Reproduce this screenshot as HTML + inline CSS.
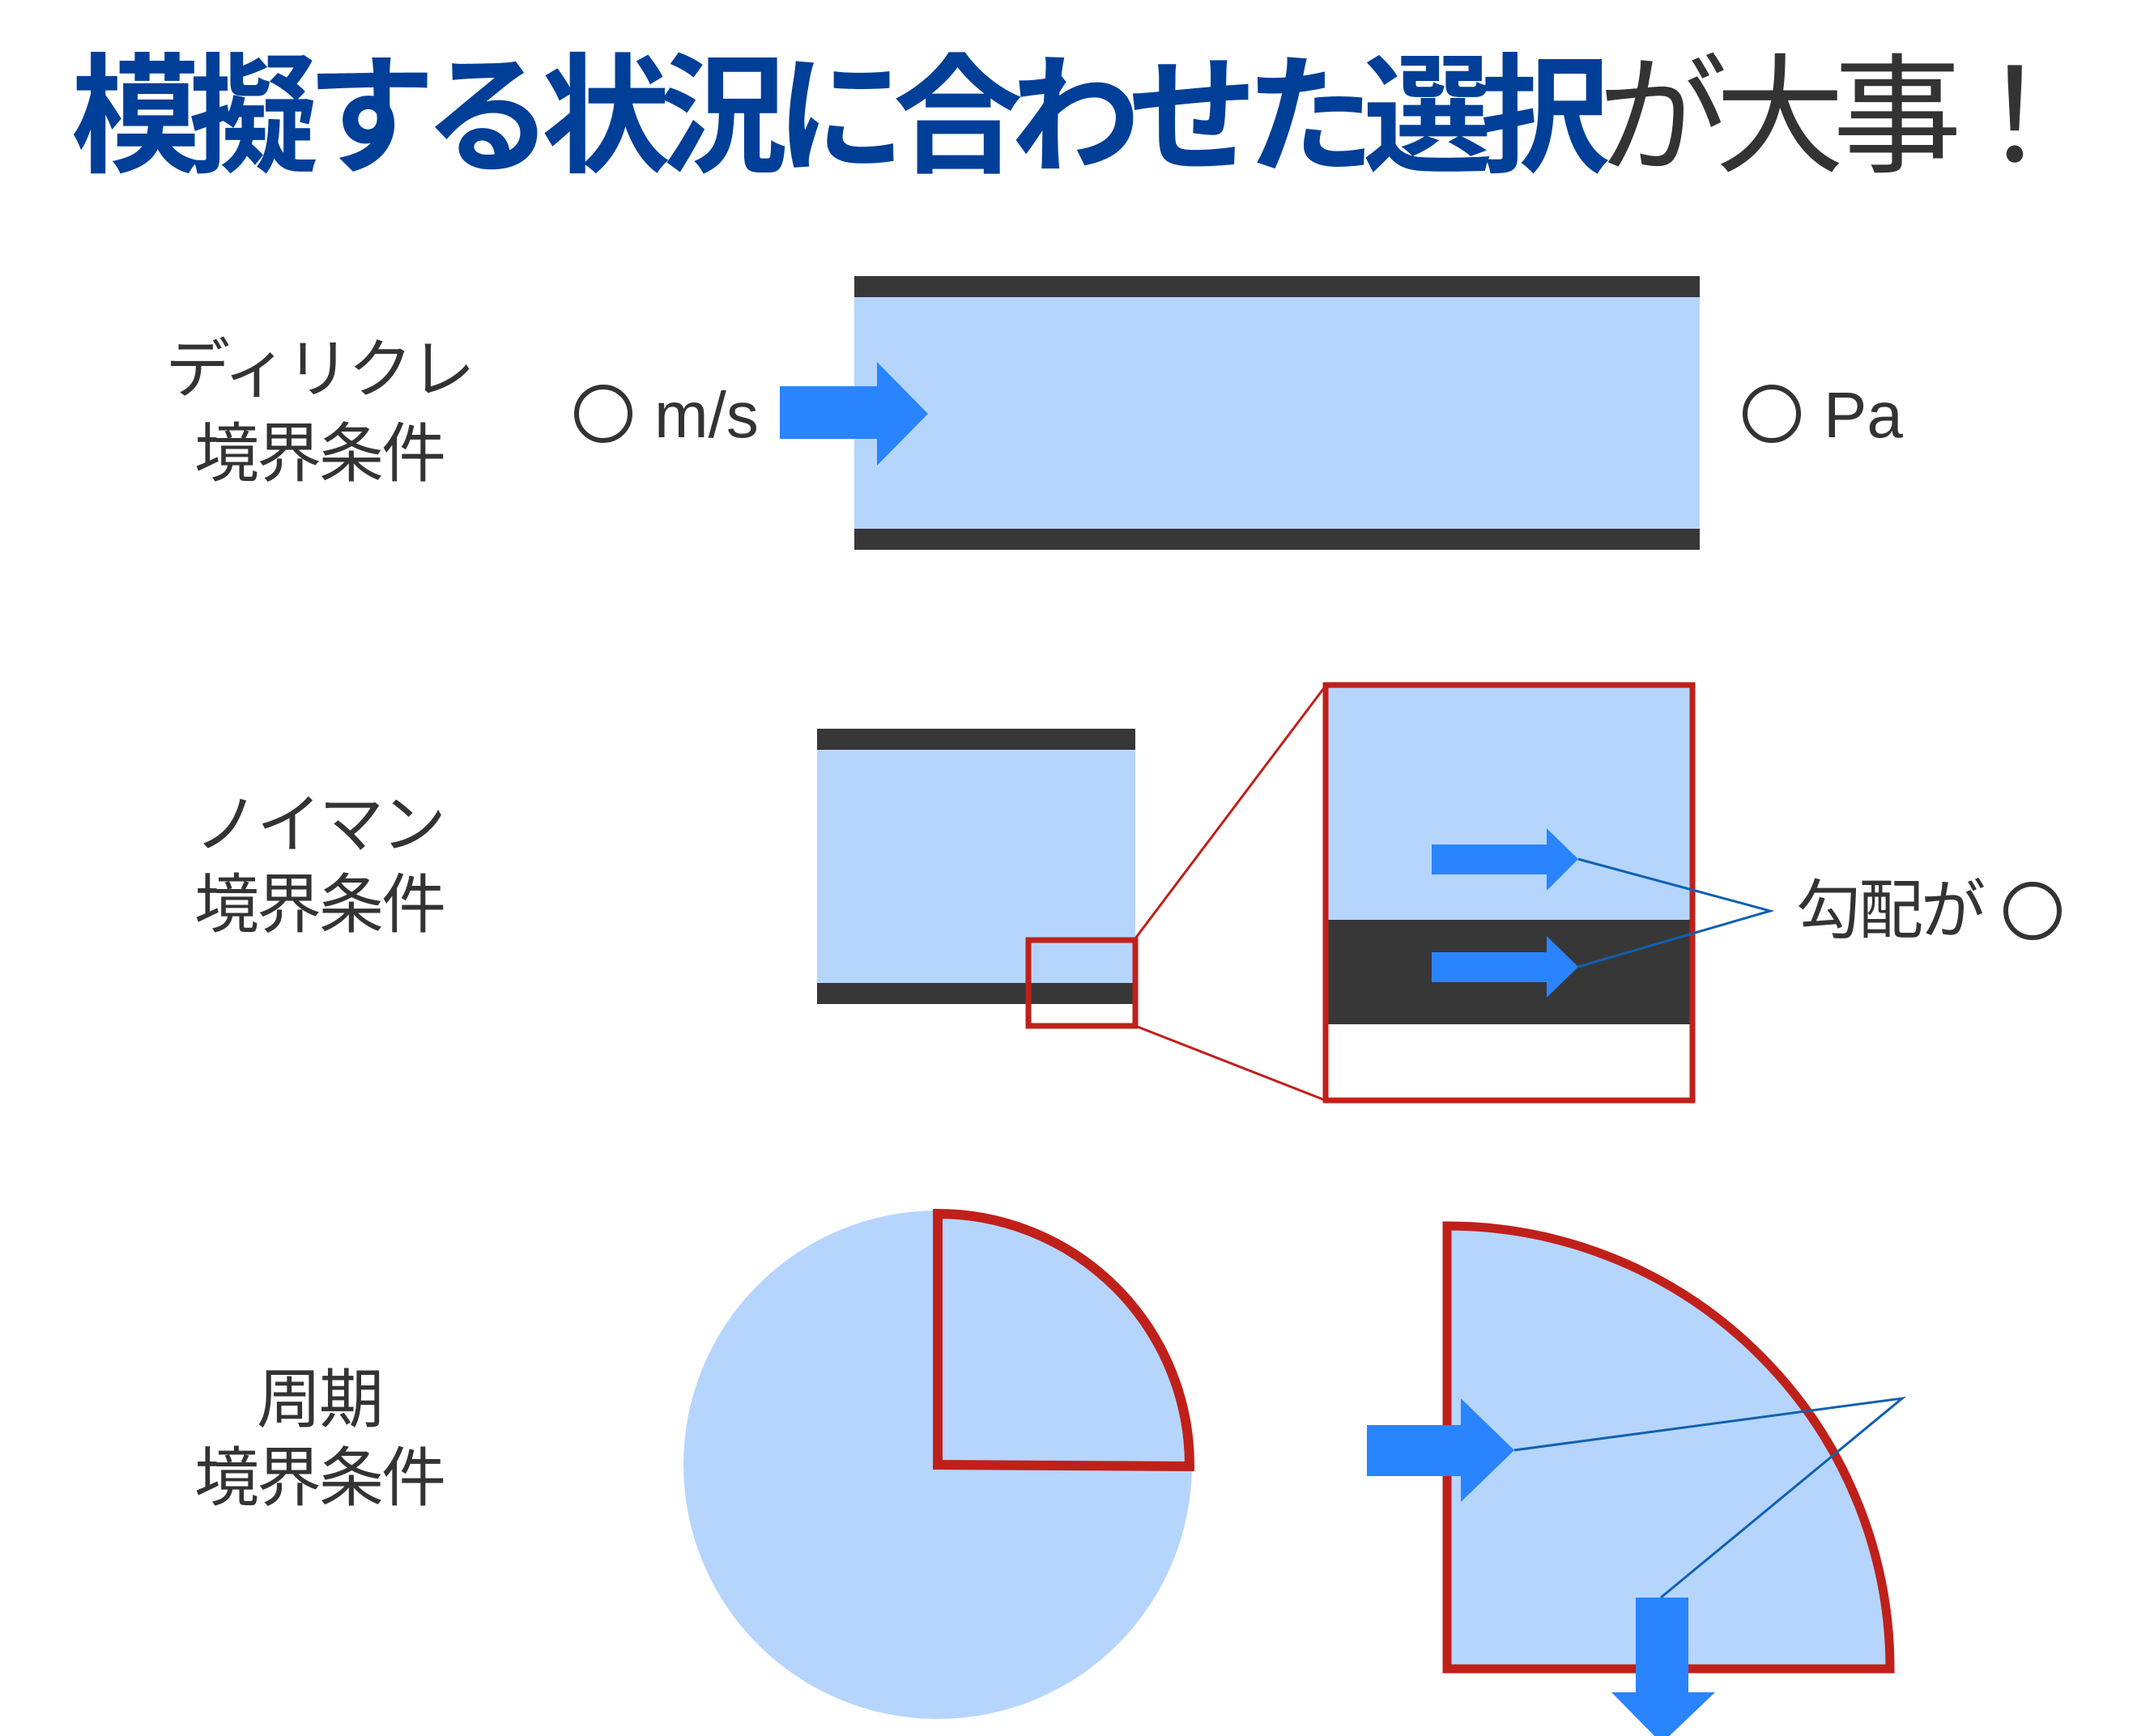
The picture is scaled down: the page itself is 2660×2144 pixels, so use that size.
<!DOCTYPE html>
<html><head><meta charset="utf-8"><style>
html,body{margin:0;padding:0;background:#fff;}
svg{display:block;}
text{font-family:"Liberation Sans","Noto Sans CJK JP",sans-serif;}
</style></head><body>
<svg width="2660" height="2144" viewBox="0 0 2660 2144" xmlns="http://www.w3.org/2000/svg">
<text x="88" y="200" font-size="160" font-weight="bold" letter-spacing="-15" style="font-family:'Noto Sans CJK JP',sans-serif"><tspan fill="#003f98">模擬する状況に合わせた選択</tspan><tspan fill="#333" font-weight="normal">が大事！</tspan></text>

<g font-size="80" fill="#333" text-anchor="middle" letter-spacing="-3" style="font-family:'Noto Sans CJK JP',sans-serif">
<text x="394" y="484">ディリクレ</text>
<text x="394" y="588">境界条件</text>
<text x="394" y="1046">ノイマン</text>
<text x="394" y="1145">境界条件</text>
<text x="394" y="1756">周期</text>
<text x="394" y="1853">境界条件</text>
</g>
<g fill="none" stroke="#333" stroke-width="6">
<circle cx="745" cy="511" r="33"/>
<circle cx="2188" cy="511" r="33"/>
<circle cx="2510" cy="1125" r="33"/>
</g>
<g font-size="80" fill="#333">
<text x="808" y="540">m/s</text>
<text x="2252" y="540">Pa</text>
<text x="2218" y="1152" letter-spacing="-3" style="font-family:'Noto Sans CJK JP',sans-serif">勾配が</text>
</g>

<!-- Dirichlet -->
<rect x="1055" y="367" width="1044" height="286" fill="#b6d5fd"/>
<rect x="1055" y="341" width="1044" height="26" fill="#373737"/>
<rect x="1055" y="653" width="1044" height="26" fill="#373737"/>
<polygon points="963,477 1083,477 1083,447 1146,511 1083,575 1083,542 963,542" fill="#2a84fe"/>

<!-- Neumann -->
<rect x="1009" y="926" width="393" height="288" fill="#b6d5fd"/>
<rect x="1009" y="900" width="393" height="26" fill="#373737"/>
<rect x="1009" y="1214" width="393" height="26" fill="#373737"/>
<rect x="1637" y="846" width="453" height="290" fill="#b6d5fd"/>
<rect x="1637" y="1136" width="453" height="129" fill="#373737"/>
<line x1="1402" y1="1159" x2="1637" y2="847" stroke="#c0201a" stroke-width="3"/>
<line x1="1402" y1="1267" x2="1637" y2="1359" stroke="#c0201a" stroke-width="3"/>
<rect x="1270" y="1161" width="132" height="106" fill="none" stroke="#c0201a" stroke-width="7"/>
<rect x="1637" y="846" width="453" height="513" fill="none" stroke="#c0201a" stroke-width="7"/>
<polygon points="1768,1043 1910,1043 1910,1023 1949,1061 1910,1100 1910,1080 1768,1080" fill="#2a84fe"/>
<polygon points="1768,1176 1910,1176 1910,1156 1949,1194 1910,1232 1910,1213 1768,1213" fill="#2a84fe"/>
<polyline points="1949,1061 2186,1125 1949,1194" fill="none" stroke="#1060b0" stroke-width="3"/>

<!-- Periodic -->
<circle cx="1158" cy="1809" r="314" fill="#b6d5fd"/>
<path d="M1158,1809 L1158,1499 A311,311 0 0 1 1469,1811 Z" fill="none" stroke="#c0201a" stroke-width="12"/>
<path d="M1787,2061 L1787,1514 A547,547 0 0 1 2334,2061 Z" fill="#b6d5fd" stroke="#c0201a" stroke-width="11"/>
<polygon points="1688,1760 1804,1760 1804,1727 1870,1791 1804,1855 1804,1823 1688,1823" fill="#2a84fe"/>
<polygon points="2020,1973 2085,1973 2085,2090 2118,2090 2052,2153 1990,2090 2020,2090" fill="#2a84fe"/>
<polyline points="1870,1791 2349,1727 2051,1973" fill="none" stroke="#1060b0" stroke-width="3"/>
</svg>
</body></html>
